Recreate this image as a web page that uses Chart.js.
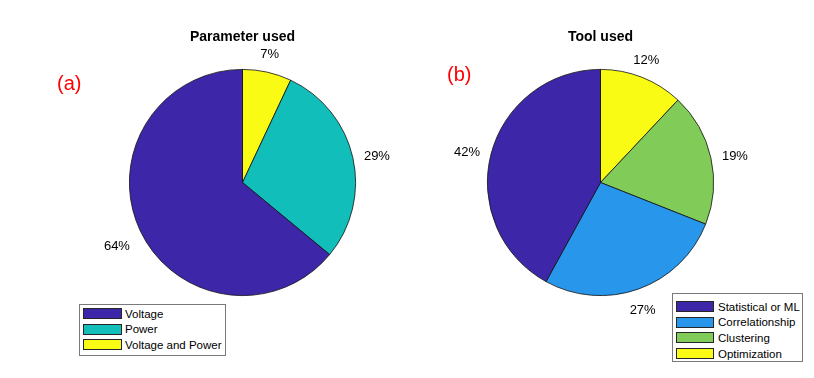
<!DOCTYPE html>
<html>
<head>
<meta charset="utf-8">
<script src="https://cdn.jsdelivr.net/npm/chart.js@4.4.1/dist/chart.umd.min.js"></script>
<style>
  body { margin: 0; background: #fff; font-family: 'Liberation Sans', Arial, sans-serif; }
  #wrap { position: relative; width: 814px; height: 378px; overflow: hidden; }
  #wrap canvas { position: absolute; top: 0; }
  .legend { position: absolute; background: #fff; border: 1px solid #7a7a7a; box-sizing: border-box; font-size: 11.5px; color: #000; }
  .legend .row { position: absolute; height: 11px; display: flex; align-items: center; white-space: nowrap; }
  .legend .sw { box-sizing: border-box; height: 11px; border: 1px solid #262626; }
</style>
</head>
<body>
<div id="wrap">
  <canvas id="pieA" width="407" height="378" style="left:0"></canvas>
  <canvas id="pieB" width="407" height="378" style="left:407px"></canvas>
  <div id="legA" class="legend" style="left:79px; top:304px; width:147px; height:52px"></div>
  <div id="legB" class="legend" style="left:672px; top:293px; width:131px; height:69px"></div>
</div>
<script>
// (a) Parameter used
const paramLabels = ['Voltage', 'Power', 'Voltage and Power'];
const paramValues = [64, 29, 7];
const paramColors = ['rgb(62,38,168)', 'rgb(18,190,185)', 'rgb(249,251,21)'];

// (b) Tool used
const toolLabels = ['Statistical or ML', 'Correlationship', 'Clustering', 'Optimization'];
const toolValues = [42, 27, 19, 12];
const toolColors = ['rgb(62,38,168)', 'rgb(39,150,235)', 'rgb(129,204,89)', 'rgb(249,251,21)'];

const FONT = '"Liberation Sans", Arial, sans-serif';

// percent labels, title and panel tag drawn on the canvas
const pieText = {
  id: 'pieText',
  afterDatasetsDraw(chart, args, opts) {
    const ctx = chart.ctx;
    const meta = chart.getDatasetMeta(0);
    const data = chart.data.datasets[0].data;
    const total = data.reduce((a, b) => a + b, 0);
    ctx.save();
    ctx.fillStyle = '#000';
    ctx.font = '13px ' + FONT;
    meta.data.forEach((arc, i) => {
      const p = arc.getProps(['x', 'y', 'startAngle', 'endAngle', 'outerRadius'], true);
      const mid = (p.startAngle + p.endAngle) / 2;
      const h = Math.cos(mid), v = -Math.sin(mid);
      const r = p.outerRadius * 1.1;
      let ty = p.y - v * r;
      ctx.textAlign = h > 0.5 ? 'left' : (h < -0.5 ? 'right' : 'center');
      if (v > 0.35) {
        ctx.textBaseline = 'bottom';
      } else if (v < -0.35) {
        ctx.textBaseline = 'top';
        ty += 4;
      } else {
        ctx.textBaseline = 'middle';
        ty += 1;
      }
      ctx.fillText(Math.round(data[i] / total * 100) + '%', p.x + h * r, ty);
    });
    const cx = meta.data[0].x;
    ctx.textAlign = 'center';
    ctx.textBaseline = 'alphabetic';
    ctx.font = 'bold 14px ' + FONT;
    ctx.fillText(opts.title, cx, 41);
    ctx.fillStyle = '#ff0000';
    ctx.font = '20px ' + FONT;
    ctx.textAlign = 'left';
    ctx.fillText(opts.tag, opts.tagX, opts.tagY);
    ctx.restore();
  }
};

function makePie(id, labels, values, colors, opts, padding) {
  // MATLAB goes counter-clockwise from the top, chart.js clockwise -> reverse
  return new Chart(document.getElementById(id), {
    type: 'pie',
    data: {
      labels: labels.slice().reverse(),
      datasets: [{
        data: values.slice().reverse(),
        backgroundColor: colors.slice().reverse(),
        borderColor: '#111',
        borderWidth: 0.8,
      }]
    },
    plugins: [pieText],
    options: {
      responsive: false,
      animation: false,
      devicePixelRatio: 1,
      layout: { padding: padding },
      plugins: {
        legend: { display: false },
        tooltip: { enabled: false },
        pieText: opts,
      }
    }
  });
}

makePie('pieA', paramLabels, paramValues, paramColors,
  { title: 'Parameter used', tag: '(a)', tagX: 57, tagY: 90 },
  { left: 129, right: 51, top: 69, bottom: 82 });
makePie('pieB', toolLabels, toolValues, toolColors,
  { title: 'Tool used', tag: '(b)', tagX: 40, tagY: 81 },
  { left: 80, right: 100, top: 69, bottom: 82 });

function buildLegend(id, labels, colors, padTop, pitch, swW, gap) {
  const box = document.getElementById(id);
  labels.forEach((lab, i) => {
    const row = document.createElement('div');
    row.className = 'row';
    row.style.left = '3px';
    row.style.top = (padTop + i * pitch) + 'px';
    const sw = document.createElement('div');
    sw.className = 'sw';
    sw.style.width = swW + 'px';
    sw.style.background = colors[i];
    const tx = document.createElement('span');
    tx.textContent = lab;
    tx.style.marginLeft = gap + 'px';
    row.appendChild(sw);
    row.appendChild(tx);
    box.appendChild(row);
  });
}
buildLegend('legA', paramLabels, paramColors, 3, 15.5, 39, 3);
buildLegend('legB', toolLabels, toolColors, 7, 15.7, 38, 4);
</script>
</body>
</html>
